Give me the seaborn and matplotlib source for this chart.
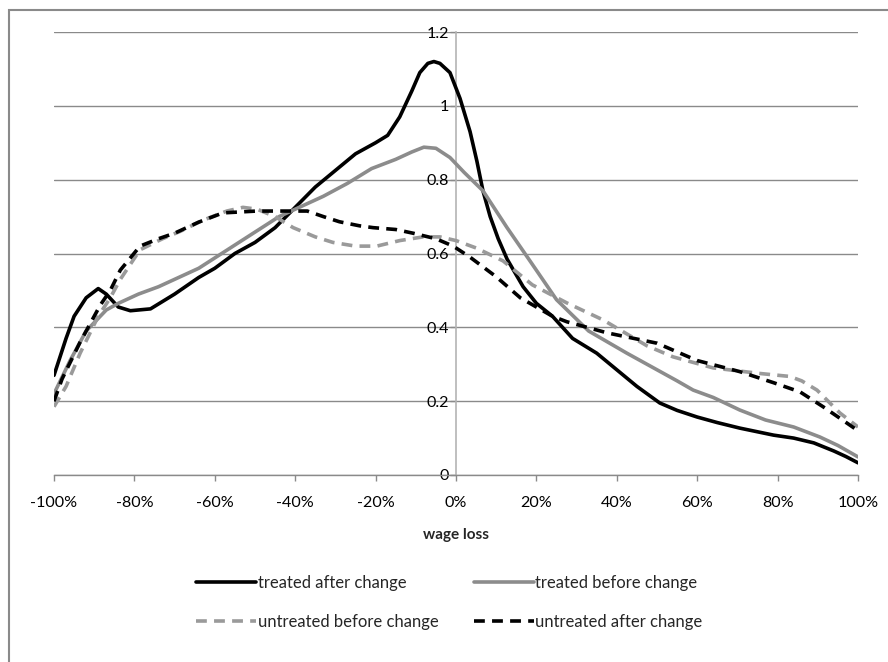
import numpy as np
import pandas as pd
import matplotlib
matplotlib.use("Agg")
import matplotlib.pyplot as plt
import seaborn as sns
from matplotlib.patches import Rectangle

# valeurs (wage loss en %, densité)
x_treated_after = [-100, -97, -95, -92, -89, -87, -84, -81, -76, -70, -64, -60, -55, -50, -45, -40,
                   -35, -30, -25, -20, -17, -14, -11, -9, -7, -5.5, -4, -1.5, 1, 3.5, 5.2, 6.7,
                   8.5, 10.5, 12.7, 16.7, 20, 24, 29, 35, 40, 45, 50.7, 55, 60, 65, 70.6, 79, 84,
                   89, 94, 97, 100]
y_treated_after = [0.27, 0.37, 0.43, 0.48, 0.505, 0.49, 0.455, 0.445, 0.45, 0.49, 0.535, 0.56,
                   0.60, 0.63, 0.67, 0.725, 0.78, 0.825, 0.87, 0.90, 0.92, 0.97, 1.04, 1.09, 1.115,
                   1.12, 1.115, 1.09, 1.02, 0.93, 0.85, 0.77, 0.70, 0.64, 0.585, 0.51, 0.465, 0.43,
                   0.37, 0.33, 0.285, 0.24, 0.195, 0.175, 0.157, 0.142, 0.127, 0.108, 0.10, 0.087,
                   0.065, 0.05, 0.033]

x_treated_before = [-100, -96, -92, -87, -84, -79, -74, -69, -64, -59, -54, -49, -44, -39, -33,
                    -27, -21, -15, -11, -8, -5, -1.5, 2, 6.7, 12.7, 18.4, 25, 33, 42.5, 50, 55,
                    59, 64, 70.6, 77, 84, 90.5, 95, 100]
y_treated_before = [0.22, 0.31, 0.39, 0.447, 0.465, 0.49, 0.51, 0.535, 0.56, 0.595, 0.63, 0.665,
                    0.70, 0.725, 0.755, 0.79, 0.83, 0.855, 0.875, 0.888, 0.885, 0.86, 0.82, 0.77,
                    0.67, 0.58, 0.475, 0.39, 0.33, 0.285, 0.255, 0.23, 0.21, 0.176, 0.149, 0.13,
                    0.103, 0.08, 0.049]

x_untreated_before = [-100, -97, -93.5, -89, -86, -83.5, -78.6, -73, -68.6, -63, -57, -53, -49.5,
                      -45, -40.5, -35, -30.6, -25, -19.7, -14, -8.2, -4, 0, 5, 11.7, 19, 27.6,
                      36.6, 47.5, 54, 64, 75.6, 83, 86, 89.8, 95.5, 100]
y_untreated_before = [0.185, 0.24, 0.33, 0.43, 0.48, 0.53, 0.61, 0.64, 0.66, 0.69, 0.715, 0.725,
                      0.72, 0.70, 0.67, 0.645, 0.63, 0.62, 0.62, 0.635, 0.645, 0.645, 0.635, 0.615,
                      0.58, 0.515, 0.466, 0.42, 0.35, 0.32, 0.29, 0.275, 0.267, 0.255, 0.23, 0.168,
                      0.13]

x_untreated_after = [-100, -98, -93.5, -88.5, -86, -83.5, -78.6, -74, -70, -64, -58, -49.5, -43,
                     -37, -33, -29, -24, -20.6, -15, -10.7, -5, -0.7, 3.5, 10, 16, 24, 27.6, 37.6,
                     50, 60, 70.6, 79, 85.6, 91.3, 96, 100]
y_untreated_after = [0.20, 0.26, 0.36, 0.46, 0.50, 0.555, 0.62, 0.64, 0.655, 0.685, 0.71, 0.715,
                     0.715, 0.715, 0.70, 0.686, 0.675, 0.67, 0.665, 0.655, 0.64, 0.62, 0.59, 0.537,
                     0.48, 0.43, 0.415, 0.385, 0.357, 0.31, 0.28, 0.25, 0.225, 0.185, 0.15, 0.12]

x_ticks = [-100, -80, -60, -40, -20, 0, 20, 40, 60, 80, 100]
x_tick_labels = ['-100%', '-80%', '-60%', '-40%', '-20%', '0%', '20%', '40%', '60%', '80%', '100%']
y_ticks = [0, 0.2, 0.4, 0.6, 0.8, 1.0, 1.2]
y_tick_labels = ['0', '0.2', '0.4', '0.6', '0.8', '1', '1.2']

sns.set_theme(style='white')
plt.rcParams['font.family'] = ['Lato', 'DejaVu Sans']

fig = plt.figure(figsize=(8.88, 6.62), dpi=100)
ax = fig.add_axes([54/888, 1-475/662, 804/888, 443/662])

gris = '#8c8c8c'
series = [
    ('treated after change', x_treated_after, y_treated_after, 'black', '-'),
    ('treated before change', x_treated_before, y_treated_before, gris, '-'),
    ('untreated before change', x_untreated_before, y_untreated_before, '#9a9a9a', (0, (3, 2))),
    ('untreated after change', x_untreated_after, y_untreated_after, 'black', (0, (3, 2))),
]
for nom, xs, ys, couleur, style in series:
    df = pd.DataFrame({'x': xs, 'y': ys})
    sns.lineplot(data=df, x='x', y='y', ax=ax, color=couleur, linewidth=2.6,
                 linestyle=style, label=nom, legend=False, zorder=3)

ax.set_xlim(-100, 100)
ax.set_ylim(0, 1.2)
ax.set_xticks(x_ticks)
ax.set_xticklabels(x_tick_labels)
ax.set_yticks(y_ticks)
ax.set_yticklabels(y_tick_labels)
ax.yaxis.grid(True, color='#8a8a8a', linewidth=1.0)
ax.xaxis.grid(False)

# axe vertical au zero
ax.spines['left'].set_position(('data', 0))
ax.spines['left'].set_color('#b4b4b4')
ax.spines['left'].set_linewidth(1.2)
ax.spines['bottom'].set_color('#8a8a8a')
ax.spines['bottom'].set_linewidth(1.0)
ax.spines['top'].set_visible(False)
ax.spines['right'].set_visible(False)
ax.tick_params(axis='x', which='both', bottom=True, length=4, width=1, color='#8a8a8a',
               pad=11, labelsize=11.6, labelcolor='black')
ax.tick_params(axis='y', which='both', left=True, length=4, width=1, color='#8a8a8a',
               pad=1, labelsize=11.6, labelcolor='black')
ax.set_xlabel('wage loss', fontsize=11, fontweight='bold', labelpad=13)
ax.set_ylabel('')

# legende sur deux lignes
handles, labels = ax.get_legend_handles_labels()
ordre = [0, 2, 1, 3]
fig.legend([handles[i] for i in ordre], [labels[i] for i in ordre], ncol=2, frameon=False,
           loc='center', bbox_to_anchor=(0.506, 0.09), fontsize=12, handlelength=3.6,
           handletextpad=0.1, columnspacing=2.1, labelspacing=1.35)

# cadre du graphique
fig.patches.append(Rectangle((9/888, -0.1), 1.2, (652/662) + 0.1, transform=fig.transFigure,
                             fill=False, edgecolor='#8a8a8a', linewidth=1.5))

fig.savefig('out.png', dpi=100)
